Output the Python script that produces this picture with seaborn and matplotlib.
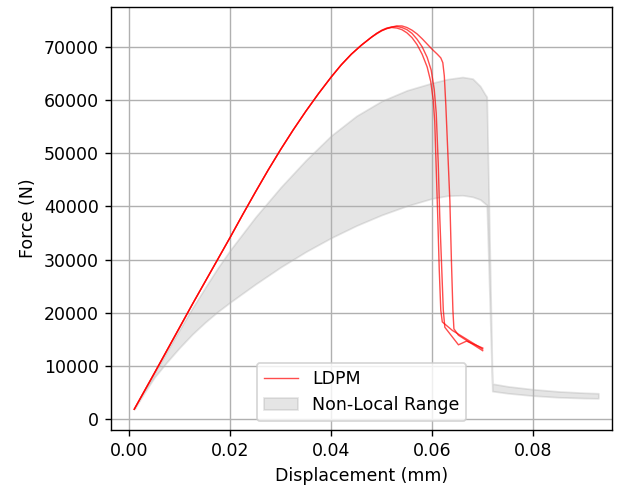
import matplotlib
matplotlib.use("Agg")
import matplotlib.pyplot as plt
import seaborn as sns
import pandas as pd

# Shared elastic / hardening branch of the LDPM runs
rise_disp = [0.001, 0.003, 0.005, 0.0075, 0.010, 0.0125, 0.015, 0.0175, 0.020,
             0.0225, 0.025, 0.0275, 0.030, 0.0325, 0.035, 0.0375, 0.040, 0.042,
             0.044, 0.046, 0.048]
rise_force = [1900, 5300, 8700, 13000, 17300, 21600, 25800, 30000, 34200,
              38500, 42700, 46800, 50700, 54400, 57900, 61200, 64300, 66600,
              68600, 70300, 71800]

# Peak and softening branch of each LDPM run
run1_disp = [0.049, 0.050, 0.051, 0.052, 0.053, 0.054, 0.055, 0.056, 0.057,
             0.058, 0.059, 0.0597, 0.0602, 0.0605, 0.0608, 0.0611, 0.0614,
             0.0617, 0.0620, 0.0640, 0.0700]
run1_force = [72500, 73000, 73400, 73600, 73500, 73200, 72600, 71700, 70400,
              68600, 66200, 63500, 60000, 56000, 47000, 38000, 28000,
              20500, 18300, 16700, 13200]

run2_disp = [0.049, 0.050, 0.051, 0.052, 0.053, 0.054, 0.055, 0.056, 0.057,
             0.058, 0.059, 0.0598, 0.0604, 0.0608, 0.0612, 0.0615, 0.0619,
             0.0622, 0.0625, 0.0652, 0.0668, 0.0700]
run2_force = [72500, 73100, 73500, 73700, 73800, 73600, 73200, 72500, 71400,
              70000, 68000, 65600, 62000, 57500, 48000, 38000, 28000,
              20500, 17300, 14000, 14700, 13400]

run3_disp = [0.049, 0.050, 0.051, 0.052, 0.053, 0.054, 0.055, 0.056, 0.057,
             0.058, 0.059, 0.060, 0.061, 0.0617, 0.0621, 0.0624, 0.0627,
             0.0631, 0.0635, 0.0638, 0.0641, 0.0643, 0.0652, 0.0700]
run3_force = [72400, 73000, 73400, 73700, 73900, 73900, 73600, 73100, 72400,
              71500, 70500, 69500, 68600, 67900, 67000, 64500, 59000,
              50000, 41000, 30000, 20500, 17000, 15800, 12900]

# Envelope of the non-local model results
band_disp = [0.001, 0.003, 0.005, 0.0075, 0.010, 0.0125, 0.015, 0.0175, 0.020,
             0.025, 0.030, 0.035, 0.040, 0.045, 0.050, 0.055, 0.060, 0.063,
             0.066, 0.068, 0.0695, 0.0705, 0.0708, 0.0719, 0.075, 0.080, 0.085,
             0.090, 0.0929]
band_upper = [1900, 5300, 8600, 12800, 16900, 20900, 24700, 28400, 31800,
              38000, 43600, 48700, 53300, 57000, 59800, 61800, 63200, 63900,
              64300, 64000, 62600, 61000, 60600, 6700, 6200, 5650, 5250,
              5000, 4900]
band_lower = [1900, 5000, 7900, 10800, 13500, 16000, 18200, 20200, 22000,
              25400, 28600, 31500, 34100, 36400, 38400, 40100, 41500, 42000,
              42100, 41800, 41300, 40500, 40300, 5300, 4900, 4450, 4150,
              4000, 3950]

runs = []
for i, (d, f) in enumerate([(run1_disp, run1_force), (run2_disp, run2_force),
                            (run3_disp, run3_force)]):
    runs.append(pd.DataFrame({"disp": rise_disp + d, "force": rise_force + f,
                              "run": i}))
ldpm = pd.concat(runs, ignore_index=True)

fig, ax = plt.subplots(figsize=(5.04, 3.888), dpi=125)
fig.subplots_adjust(left=0.1762, right=0.9714, bottom=0.1152, top=0.985)

ax.fill_between(band_disp, band_lower, band_upper, color="gray", alpha=0.2,
                label="Non-Local Range")

for i, (run_id, df) in enumerate(ldpm.groupby("run")):
    sns.lineplot(data=df, x="disp", y="force", ax=ax, color="red",
                 linewidth=0.8, alpha=0.7, sort=False, estimator=None,
                 label="LDPM" if i == 0 else None)

ax.set_xlim(-0.0036, 0.0956)
ax.set_ylim(-2000, 77400)
ax.grid(True)
ax.set_xlabel("Displacement (mm)")
ax.set_ylabel("Force (N)")

handles, labels = ax.get_legend_handles_labels()
order = [labels.index("LDPM"), labels.index("Non-Local Range")]
ax.legend([handles[k] for k in order], [labels[k] for k in order],
          loc="lower center")

fig.savefig("out.png", dpi=125)
